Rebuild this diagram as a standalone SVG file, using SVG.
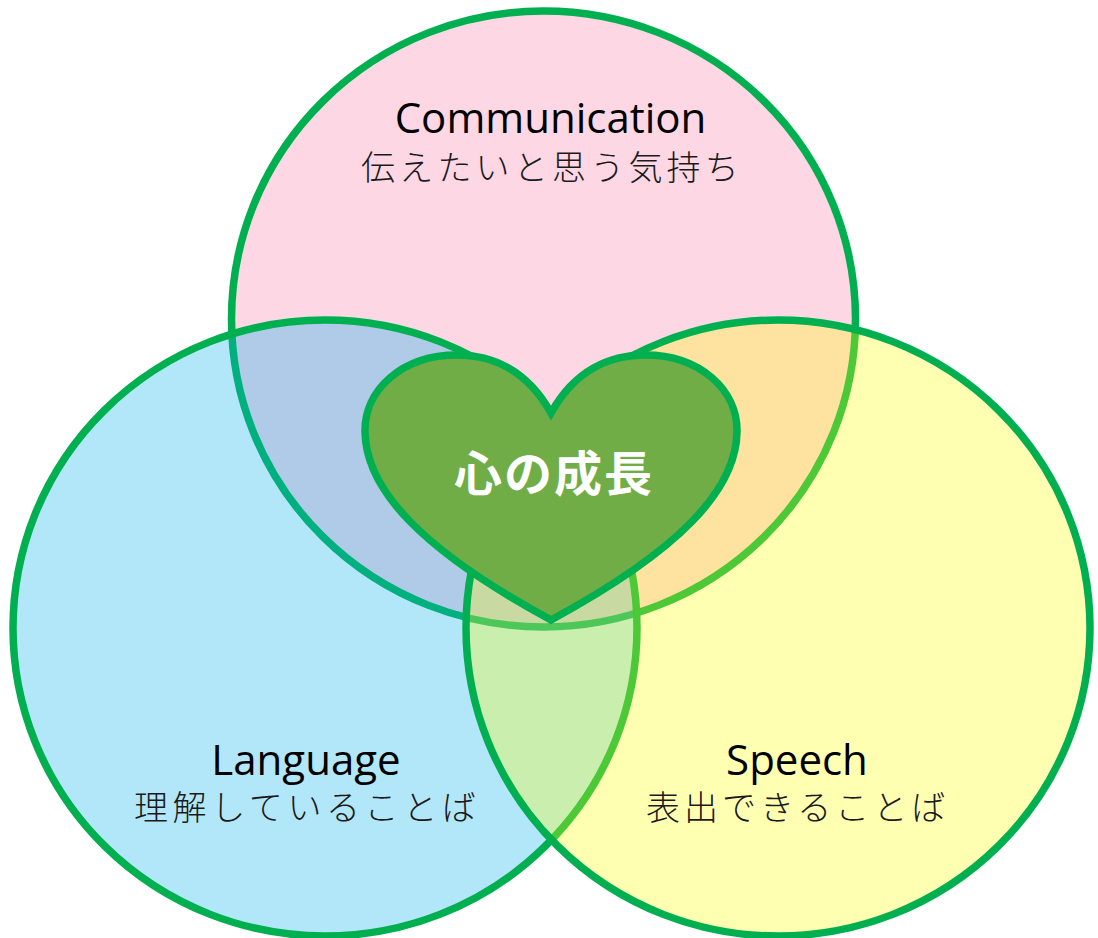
<svg xmlns="http://www.w3.org/2000/svg" width="1098" height="938" viewBox="0 0 1098 938">
<style>
.ring{stroke:#00b050;stroke-width:7.5}
.en{font-family:"Open Sans","Liberation Sans",sans-serif;font-size:42px;fill:#000}
.jp{font-family:"Noto Sans CJK JP",sans-serif;font-size:34px;font-weight:300;fill:#1a1a1a}
.heart{font-family:"Noto Sans CJK JP",sans-serif;font-size:48px;font-weight:700;fill:#fff}
</style>
<rect width="1098" height="938" fill="#fff"/>
<g id="communication">
<ellipse class="ring" cx="543.5" cy="319" rx="312" ry="308" fill="#fdd7e4"/>
</g>
<g id="language">
<ellipse class="ring" cx="325" cy="628" rx="312" ry="308" fill="#00b0f0" fill-opacity="0.3"/>
</g>
<g id="speech">
<ellipse class="ring" cx="778" cy="628" rx="312" ry="308" fill="#ffff00" fill-opacity="0.3"/>
</g>
<g id="heart-node">
<path d="M551,413 C575,370 610,355 645,355 C700,355 738,390 737,432 C736,490 680,550 551,620 C422,550 366,490 365,432 C364,390 402,355 457,355 C492,355 527,370 551,413 Z" fill="#70ad47" stroke="#00b050" stroke-width="7.5" stroke-linejoin="miter"/>
<text class="heart" x="454" y="491" letter-spacing="2">心の成長</text>
</g>
<g id="labels">
<text class="en" x="550.5" y="133" text-anchor="middle">Communication</text>
<text class="jp" x="361" y="180" letter-spacing="4.2">伝えたいと思う気持ち</text>
<text class="en" x="306" y="775" text-anchor="middle">Language</text>
<text class="jp" x="134" y="820" letter-spacing="4.6">理解していることば</text>
<text class="en" x="797" y="775" text-anchor="middle">Speech</text>
<text class="jp" x="646" y="820" letter-spacing="4.0">表出できることば</text>
</g>
<g id="connectors"></g>
</svg>
